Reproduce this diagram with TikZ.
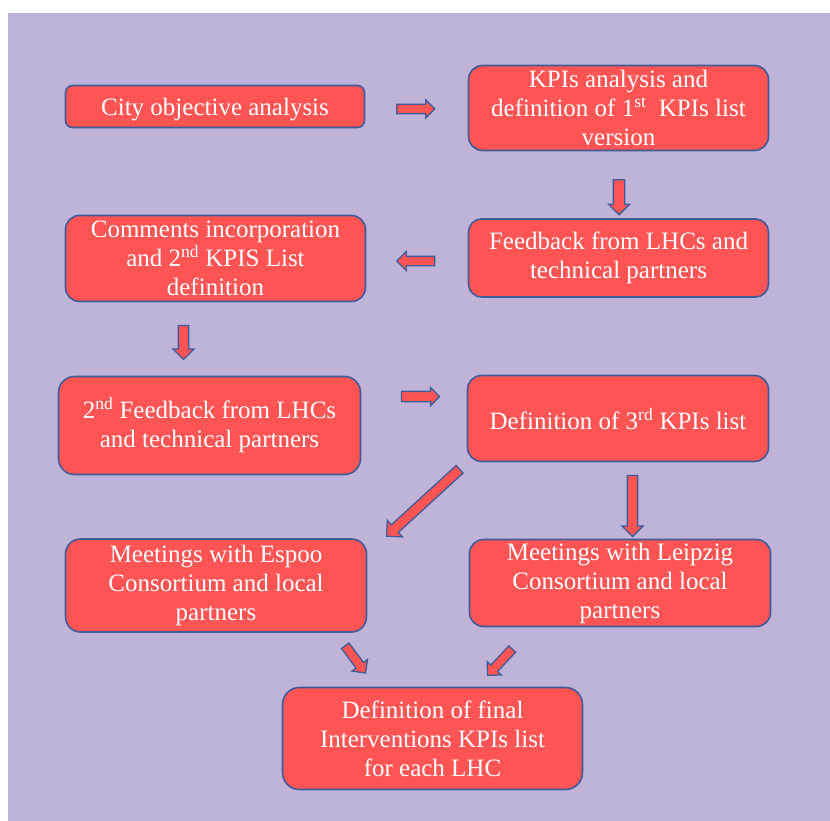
\documentclass[tikz,border=0pt]{standalone}
\usepackage{fontspec}
\setmainfont{Liberation Serif}
\usetikzlibrary{shapes.arrows}
\definecolor{bgpurple}{HTML}{BFB4D8}
\definecolor{boxred}{HTML}{FF5454}
\definecolor{bord}{HTML}{3E5C9A}
\tikzset{
  stepbox/.style={draw=bord, fill=boxred, line width=1.6pt, text=white,
    align=center, inner sep=2pt,
    font=\fontsize{25}{29}\selectfont,
    execute at begin node={\rule{0pt}{22.5pt}}},
  blockarrow/.style={single arrow, draw=bord, fill=boxred, line width=1.3pt,
    inner sep=0pt, single arrow tip angle=90, anchor=center}
}
\begin{document}
\begin{tikzpicture}[x=1pt,y=-1pt]
\useasboundingbox (0,0) rectangle (830,821);
\fill[bgpurple] (8,13) rectangle (830,821);
% boxes
\node[stepbox, minimum width=299pt, minimum height=42pt, rounded corners=7pt] (b1) at (215,106.5) {City objective analysis};
\node[stepbox, minimum width=300pt, minimum height=85pt, rounded corners=14pt] (b2) at (618.5,108) {KPIs analysis and\\definition of 1\textsuperscript{st}\ \ KPIs list\\version};
\node[stepbox, minimum width=300pt, minimum height=78pt, rounded corners=13pt] (b3) at (618.5,258) {Feedback from LHCs and\\technical partners};
\node[stepbox, minimum width=300pt, minimum height=86pt, rounded corners=14pt] (b4) at (215.5,258.5) {Comments incorporation\\and 2\textsuperscript{nd} KPIS List\\definition};
\node[stepbox, minimum width=302pt, minimum height=98pt, rounded corners=16pt] (b5) at (209.5,425.5) {2\textsuperscript{nd} Feedback from LHCs\\and technical partners};
\node[stepbox, minimum width=301pt, minimum height=86pt, rounded corners=14pt] (b6) at (618,418.5) {Definition of 3\textsuperscript{rd} KPIs list};
\node[stepbox, minimum width=301pt, minimum height=93pt, rounded corners=15pt] (b7) at (216,585.5) {Meetings with Espoo\\Consortium and local\\partners};
\node[stepbox, minimum width=301pt, minimum height=87pt, rounded corners=14pt] (b8) at (620,583) {Meetings with Leipzig\\Consortium and local\\partners};
\node[stepbox, minimum width=300pt, minimum height=102pt, rounded corners=17pt] (b9) at (432.5,738.5) {Definition of final\\Interventions KPIs list\\for each LHC};
% block arrows
\node[blockarrow, minimum height=38pt, inner ysep=4pt, single arrow head extend=4.5pt] (a1) at (413.5,109) {};
\node[blockarrow, minimum height=35pt, inner ysep=5pt, single arrow head extend=5pt, rotate=-90] (a2) at (619,194.5) {};
\node[blockarrow, minimum height=38pt, inner ysep=4pt, single arrow head extend=5pt, rotate=180] (a3) at (418,261) {};
\node[blockarrow, minimum height=34pt, inner ysep=4.5pt, single arrow head extend=5.5pt, rotate=-90] (a4) at (183.5,340) {};
\node[blockarrow, minimum height=38pt, inner ysep=4.5pt, single arrow head extend=4pt] (a5) at (418,396.5) {};
\node[blockarrow, minimum height=99pt, inner ysep=4.5pt, single arrow head extend=6pt, rotate=222.5] (a6) at (425,501) {};
\node[blockarrow, minimum height=61pt, inner ysep=4.5pt, single arrow head extend=5.5pt, rotate=-90] (a7) at (632.5,503.5) {};
\node[blockarrow, minimum height=34pt, inner ysep=4pt, single arrow head extend=5pt, rotate=-53.5] (a8) at (354,657.5) {};
\node[blockarrow, minimum height=36pt, inner ysep=4pt, single arrow head extend=5pt, rotate=227] (a9) at (501.5,660.5) {};
\end{tikzpicture}
\end{document}
